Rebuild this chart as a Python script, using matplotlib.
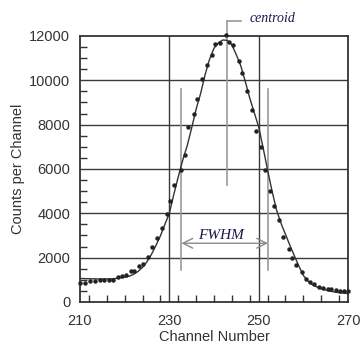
import numpy as np
import matplotlib
matplotlib.use("Agg")
import matplotlib.pyplot as plt
from matplotlib.ticker import MultipleLocator

plt.rcParams['font.family'] = ['Liberation Sans', 'DejaVu Sans']

chan = [210.0, 211.2, 212.2, 213.3, 214.4, 215.4, 216.5, 217.4, 218.6, 219.5,
        220.3, 221.4, 222.2, 223.1, 224.2, 225.2, 226.2, 227.2, 228.3, 229.5,
        230.2, 231.1, 232.6, 233.4, 234.1, 235.5, 236.2, 237.4, 238.5, 239.5,
        240.2, 241.3, 242.6, 243.3, 244.3, 245.5, 246.3, 247.3, 248.4, 249.4,
        250.5, 251.5, 252.6, 253.5, 254.5, 255.4, 256.8, 257.5, 258.4, 259.6,
        260.5, 261.4, 262.3, 263.5, 264.4, 265.6, 266.3, 267.3, 268.2, 269.1,
        269.9]
counts = [840, 870, 930, 960, 990, 990, 990, 990, 1140, 1170,
          1200, 1400, 1400, 1620, 1730, 2040, 2490, 2900, 3350, 3950,
          4550, 5300, 5970, 6650, 7900, 8490, 9150, 10050, 10700, 11150,
          11640, 11700, 12050, 11750, 11600, 10850, 10320, 9540, 8650, 7700,
          7000, 5940, 5000, 4350, 3720, 2925, 2370, 2000, 1650, 1350,
          1050, 900, 800, 690, 630, 600, 570, 540, 500, 495,
          480]

# fitted curve
fit_chan = list(range(210, 271))
fit_counts = [1060, 1055, 1050, 1045, 1040, 1040, 1040, 1045, 1060, 1090,
              1120, 1160, 1250, 1380, 1560, 1820, 2150, 2550, 2980, 3500,
              4000, 4850, 5650, 6400, 7050, 7850, 8700, 9400, 10250, 10950,
              11450, 11700, 11820, 11800, 11600, 11150, 10650, 9950, 9200, 8550,
              7900, 6950, 5950, 5000, 4150, 3550, 3050, 2550, 2080, 1620,
              1200, 950, 780, 680, 600, 540, 490, 450, 420, 400,
              380]

centroid = 242.9
fwhm_lo, fwhm_hi = 232.7, 252.1

fig = plt.figure(figsize=(3.6, 3.47), dpi=100)
fig.patch.set_facecolor('white')
ax = fig.add_axes([0.2222, 0.1297, 0.7445, 0.7666])
ax.set_facecolor('white')

ax.set_xlim(210, 270)
ax.set_ylim(0, 12000)
ax.set_xticks([210, 230, 250, 270])
ax.set_yticks(range(0, 12001, 2000))
ax.xaxis.set_minor_locator(MultipleLocator(4))
ax.yaxis.set_minor_locator(MultipleLocator(500))
ax.xaxis.set_ticks_position('bottom')
ax.yaxis.set_ticks_position('left')
ax.tick_params(which='both', direction='in', labelsize=10.5,
               labelcolor='#333333')
ax.tick_params(which='major', length=0, pad=7)
ax.tick_params(which='minor', length=5, width=1, color='#333333')
ax.tick_params(axis='x', which='major', pad=9)
ax.grid(False)

for y in range(2000, 12000, 2000):
    ax.axhline(y, color='#3a3a3a', lw=1.0, zorder=1)
for x in (230, 250):
    ax.axvline(x, color='#3a3a3a', lw=1.0, zorder=1)
for s in ax.spines.values():
    s.set_color('#333333')
    s.set_linewidth(1.3)

# centroid marker
ax.plot([centroid, centroid], [5280, 12680], color='#9a9a9a', lw=1.2,
        clip_on=False, zorder=2)
ax.plot([centroid, 246.1], [12680, 12680], color='#9a9a9a', lw=1.2,
        clip_on=False, zorder=2)
ax.text(248.0, 12770, 'centroid', family='Liberation Serif', style='italic',
        fontsize=10, color='#1a1a4a', va='center', ha='left')

# FWHM markers
for x in (fwhm_lo, fwhm_hi):
    ax.plot([x, x], [1450, 9600], color='#9a9a9a', lw=1.2, zorder=2)
ax.annotate('', xy=(fwhm_lo, 2650), xytext=(fwhm_hi, 2650),
            arrowprops=dict(arrowstyle='<->,head_length=0.7,head_width=0.35',
                            color='#8a8a8a', lw=1.0, shrinkA=0, shrinkB=0))
ax.text(241.6, 2980, 'FWHM', family='Liberation Serif', style='italic',
        fontsize=11, color='#1a1a4a', va='center', ha='center')

ax.plot(fit_chan, fit_counts, color='#333333', lw=1.0, zorder=3)
ax.plot(chan, counts, 'o', color='#222222', ms=2.2, zorder=4, clip_on=False)

ax.set_xlabel('Channel Number', fontsize=10.5, color='#333333', labelpad=1)
ax.set_ylabel('Counts per Channel', fontsize=10.5, color='#333333', labelpad=3)

fig.savefig('out.png', dpi=100)
